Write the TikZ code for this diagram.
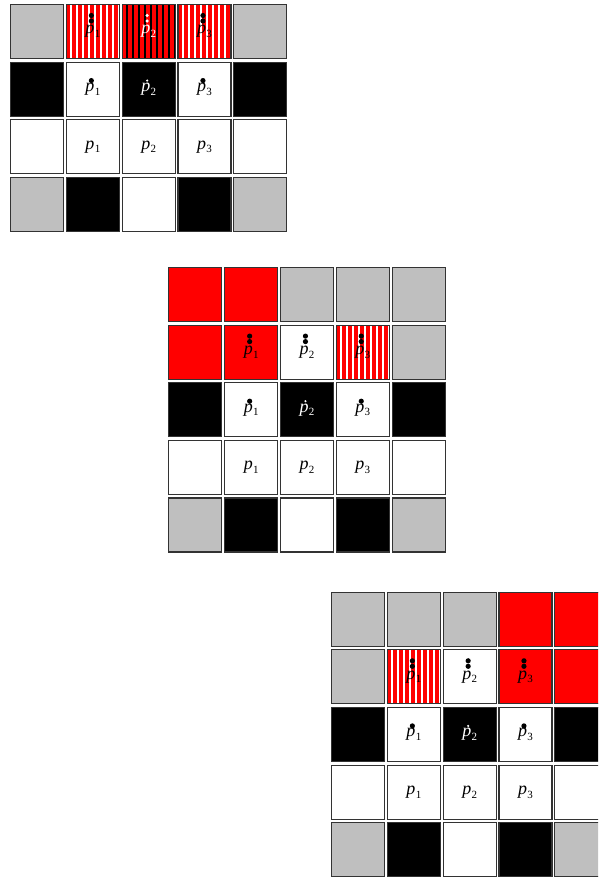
\documentclass[tikz,border=0pt]{standalone}
\usepackage{fontspec}
\setmainfont{Liberation Serif}
\newcommand{\pv}[1]{\textit{p}\kern0.3pt\raisebox{-0.45ex}{\fontsize{11}{11}\selectfont #1}}
\tikzset{
  sq/.style={draw=black!80, line width=1.1pt, minimum width=53pt, minimum height=54pt,
    inner sep=0pt, anchor=north west, font=\fontsize{18}{18}\selectfont},
  gr/.style={sq, fill=black!25},
  bk/.style={sq, fill=black, text=white},
  wh/.style={sq, fill=white},
  rd/.style={sq, fill=red},
  rw/.style={sq, fill=white, path picture={
    \foreach \k in {0,...,8}
      \fill[red] ([xshift=\k*6pt]path picture bounding box.south west) rectangle ++(3.6pt,60pt);}},
  rb/.style={rw, fill=black, text=white},
}
\begin{document}
\begin{tikzpicture}[x=1pt,y=-1pt]
\clip (0,0) rectangle (598,880);
\fill[white] (0,0) rectangle (598,880);
% first grid, top row
\foreach \s/\t [count=\c from 0] in {gr/{},rw/\pv{1},rb/\pv{2},rw/\pv{3},gr/{}}
  \node[\s] (a0\c) at (10+55.8*\c,4) {\t};
% second grid, top rows
\foreach \s [count=\c from 0] in {rd,rd,gr,gr,gr}
  \node[\s] (b0\c) at (168.3+55.8*\c,267) {};
\foreach \s/\t [count=\c from 0] in {rd/{},rd/\pv{1},wh/\pv{2},rw/\pv{3},gr/{}}
  \node[\s] (b1\c) at (168.3+55.8*\c,324.6) {\t};
% third grid, top rows
\foreach \s [count=\c from 0] in {gr,gr,gr,rd,rd}
  \node[\s] (c0\c) at (331+55.8*\c,591.7) {};
\foreach \s/\t [count=\c from 0] in {gr/{},rw/\pv{1},wh/\pv{2},rd/\pv{3},rd/{}}
  \node[\s] (c1\c) at (331+55.8*\c,649.3) {\t};
% lower rows, the same in every grid
\foreach \g/\gx/\gy/\r in {a/10/61.6/1,b/168.3/382.2/2,c/331/706.9/2}{
  \pgfmathtruncatemacro{\ra}{\r}
  \pgfmathtruncatemacro{\rb}{\r+1}
  \pgfmathtruncatemacro{\rc}{\r+2}
  \foreach \s/\t [count=\c from 0] in {bk/{},wh/\pv{1},bk/\pv{2},wh/\pv{3},bk/{}}
    \node[\s] (\g\ra\c) at (\gx+55.8*\c,\gy) {\t};
  \foreach \s/\t [count=\c from 0] in {wh/{},wh/\pv{1},wh/\pv{2},wh/\pv{3},wh/{}}
    \node[\s] (\g\rb\c) at (\gx+55.8*\c,\gy+57.6) {\t};
  \foreach \s [count=\c from 0] in {gr,bk,wh,bk,gr}
    \node[\s] (\g\rc\c) at (\gx+55.8*\c,\gy+115.2) {};
}
% dots
\foreach \n in {a11,a13,b21,b23,c21,c23}
  \fill (\n.north) ++(-1.5pt,-19pt) circle[radius=2.6pt];
\foreach \n in {a12,b22,c22}
  \fill[white] (\n.north) ++(-1.5pt,-19pt) circle[radius=1.2pt];
\foreach \n in {a01,a03,b11,b12,b13,c11,c12,c13}{
  \fill (\n.north) ++(-1.5pt,-11.5pt) circle[radius=2.6pt];
  \fill (\n.north) ++(-1.5pt,-17pt) circle[radius=2.6pt];
}
\fill[white] (a02.north) ++(-1.5pt,-11.5pt) circle[radius=1.8pt];
\fill[white] (a02.north) ++(-1.5pt,-17pt) circle[radius=1.8pt];
\end{tikzpicture}
\end{document}
